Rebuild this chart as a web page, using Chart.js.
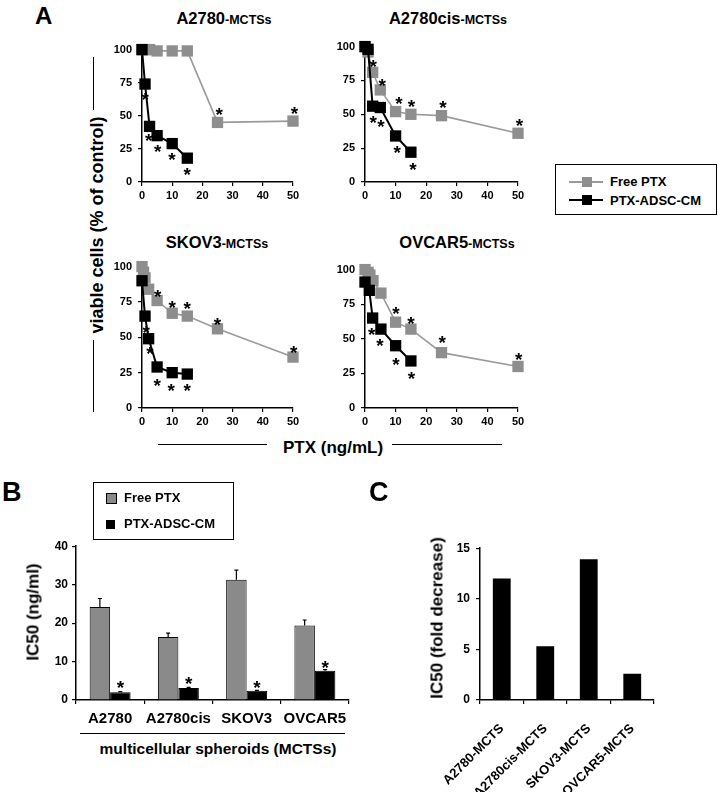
<!DOCTYPE html>
<html><head><meta charset="utf-8">
<script src="https://cdn.jsdelivr.net/npm/chart.js@4.4.1/dist/chart.umd.min.js"></script>
<style>
html,body{margin:0;padding:0;background:#fff}
#page{position:relative;width:718px;height:792px;overflow:hidden;font-family:"Liberation Sans",Arial,Helvetica,sans-serif;font-weight:bold;color:#000}
#page canvas{position:absolute}
.t{position:absolute;white-space:nowrap;line-height:1}
.hl{position:absolute;background:#000}
.box{position:absolute;border:1.5px solid #000;box-sizing:border-box}
</style></head><body><div id="page"></div>
<script>
// ---------------- data ----------------
const doseTicks = [0, 10, 20, 30, 40, 50];
const viabTicks = [0, 25, 50, 75, 100];

const a2780FreeDose = [0, 1, 2.5, 5, 10, 15, 25, 50];
const a2780FreeVal  = [100, 100, 100, 99, 99, 99, 45, 46];
const a2780CmDose   = [0, 1, 2.5, 5, 10, 15];
const a2780CmVal    = [100, 74, 42, 35, 29, 18];
const a2780Stars    = [[25.6, 54], [50.5, 55], [1.1, 65], [2.2, 34], [5.2, 26], [9.9, 20], [15, 8.5]];

const a2780cisFreeDose = [0, 1, 2.5, 5, 10, 15, 25, 50];
const a2780cisFreeVal  = [100, 96, 81, 68, 52, 50, 49, 36];
const a2780cisCmDose   = [0, 1, 2.5, 5, 10, 15];
const a2780cisCmVal    = [100, 98, 56, 55, 34, 22];
const a2780cisStars    = [[2.7, 88], [5.6, 74], [11.1, 61], [15.2, 59], [25.5, 58], [50.5, 45], [2.7, 47], [5.2, 44], [10.5, 25], [15.7, 12]];

const skov3FreeDose = [0, 0.5, 1, 2.2, 5, 10, 15, 25, 50];
const skov3FreeVal  = [100, 96, 92, 84, 76, 67, 65, 56, 36];
const skov3CmDose   = [0, 1, 2.2, 5, 10, 15];
const skov3CmVal    = [90, 65, 49, 29, 25, 24];
const skov3Stars    = [[5.2, 82], [10, 74], [15, 73], [25, 62], [50.2, 42], [1.4, 56], [2.6, 41], [5, 19], [9.7, 15.5], [15, 15]];

const ovcar5FreeDose = [0, 1, 1.6, 2.6, 5.2, 10, 15, 25, 50];
const ovcar5FreeVal  = [100, 98, 96, 92, 83, 62, 57, 40, 30];
const ovcar5CmDose   = [0, 1.4, 2.5, 5.2, 10, 15];
const ovcar5CmVal    = [91, 85, 65, 57, 45, 34];
const ovcar5Stars    = [[10.1, 71], [15, 64], [25.2, 50], [50.2, 38], [2.2, 56], [4.9, 48], [10.1, 34], [15.2, 24]];

const cellLines   = ['A2780', 'A2780cis', 'SKOV3', 'OVCAR5'];
const ic50Free    = [24.2, 16.4, 31.3, 19.4];
const ic50FreeErr = [2.2, 1.0, 2.5, 1.4];
const ic50Cm      = [2.0, 3.1, 2.4, 7.6];
const ic50CmErr   = [0.2, 0.2, 0.1, 0.3];
const ic50CmStar  = [4.4, 5.3, 4.4, 9.6];
const ic50Ticks   = [0, 10, 20, 30, 40];

const foldLabels   = ['A2780-MCTS', 'A2780cis-MCTS', 'SKOV3-MCTS', 'OVCAR5-MCTS'];
const foldDecrease = [12.0, 5.3, 13.9, 2.6];
const foldTicks    = [0, 5, 10, 15];

// ---------------- helpers ----------------
const FONT = '"Liberation Sans", Arial, Helvetica, sans-serif';
const GRAY_PT = '#8e8e8e', GRAY_LN = '#9a9a9a', GRAY_BAR = '#8a8a8a';
const page = document.getElementById('page');
Chart.defaults.font.family = FONT;
Chart.defaults.font.weight = 'bold';
Chart.defaults.color = '#000';
Chart.defaults.animation = false;

function makeCanvas(left, top, w, h) {
  const c = document.createElement('canvas');
  c.width = w; c.height = h;
  c.style.left = left + 'px'; c.style.top = top + 'px';
  c.style.width = w + 'px'; c.style.height = h + 'px';
  page.appendChild(c);
  return c;
}
function txt(html, x, base, size, center) {
  const d = document.createElement('div');
  d.className = 't'; d.innerHTML = html;
  d.style.fontSize = size + 'px';
  d.style.top = (base - 0.8465 * size) + 'px';
  d.style.left = x + 'px';
  if (center) d.style.transform = 'translateX(-50%)';
  page.appendChild(d);
  return d;
}
function vtxt(text, cx, cy, size) {
  const d = document.createElement('div');
  d.className = 't'; d.textContent = text;
  d.style.fontSize = size + 'px';
  d.style.left = cx + 'px'; d.style.top = cy + 'px';
  d.style.transform = 'translate(-50%,-50%) rotate(-90deg)';
  page.appendChild(d);
}
function rect(cls, l, t, w, h, bg) {
  const d = document.createElement('div');
  d.className = cls;
  d.style.left = l + 'px'; d.style.top = t + 'px';
  d.style.width = w + 'px'; d.style.height = h + 'px';
  if (bg) d.style.background = bg;
  page.appendChild(d);
  return d;
}

const starPlugin = {
  id: 'stars',
  afterDatasetsDraw(chart, args, opts) {
    const pts = opts.points || [];
    const ctx = chart.ctx, xs = chart.scales.x, ys = chart.scales.y;
    const size = opts.size || 18;
    ctx.save();
    ctx.font = `bold ${size}px ${FONT}`;
    ctx.fillStyle = '#000'; ctx.textAlign = 'center'; ctx.textBaseline = 'alphabetic';
    pts.forEach(p => {
      let px;
      if (opts.dataset != null) px = chart.getDatasetMeta(opts.dataset).data[p[0]].x;
      else px = xs.getPixelForValue(p[0]);
      ctx.fillText('*', px, ys.getPixelForValue(p[1]) + 0.55 * size);
    });
    ctx.restore();
  }
};
const errPlugin = {
  id: 'errbars',
  afterDatasetsDraw(chart, args, opts) {
    const ctx = chart.ctx, ys = chart.scales.y;
    ctx.save(); ctx.strokeStyle = '#000'; ctx.lineWidth = 1.2;
    (opts.sets || []).forEach(s => {
      const meta = chart.getDatasetMeta(s.ds);
      const vals = chart.data.datasets[s.ds].data;
      meta.data.forEach((bar, i) => {
        const y0 = ys.getPixelForValue(vals[i]), y1 = ys.getPixelForValue(vals[i] + s.err[i]);
        ctx.beginPath();
        ctx.moveTo(bar.x, y0); ctx.lineTo(bar.x, y1);
        ctx.moveTo(bar.x - 2, y1); ctx.lineTo(bar.x + 2, y1);
        ctx.stroke();
      });
    });
    ctx.restore();
  }
};

function axisCommon(size, pad, list, fit) {
  return {
    afterFit: fit,
    afterBuildTicks: s => { s.ticks = list.map(v => ({ value: v })); },
    ticks: { font: { size: size, weight: 'bold', family: FONT }, color: '#000', padding: pad, maxRotation: 0, autoSkip: false },
    grid: { drawOnChartArea: false, drawTicks: true, tickLength: 4, color: '#000', lineWidth: 1.2 },
    border: { display: true, color: '#000', width: 1.5 }
  };
}

function doseChart(l, t, w, h, yW, xH, padTop, freeDose, freeVal, cmDose, cmVal, stars) {
  const cv = makeCanvas(l, t, w, h);
  const xs = Object.assign({ type: 'linear', min: 0, max: 50 }, axisCommon(11, 3, doseTicks, s => { s.height = xH; }));
  const ys = Object.assign({ type: 'linear', min: 0, max: 100 }, axisCommon(11, 6, viabTicks, s => { s.width = yW; }));
  new Chart(cv, {
    type: 'scatter',
    data: { datasets: [
      { label: 'Free PTX', data: freeDose.map((d, i) => ({ x: d, y: freeVal[i] })), showLine: true,
        borderColor: GRAY_LN, borderWidth: 1.6, backgroundColor: GRAY_PT, pointBackgroundColor: GRAY_PT,
        pointBorderColor: GRAY_PT, pointBorderWidth: 0, pointStyle: 'rect', pointRadius: 8, clip: false, order: 1 },
      { label: 'PTX-ADSC-CM', data: cmDose.map((d, i) => ({ x: d, y: cmVal[i] })), showLine: true,
        borderColor: '#000', borderWidth: 2, backgroundColor: '#000', pointBackgroundColor: '#000',
        pointBorderColor: '#000', pointBorderWidth: 0, pointStyle: 'rect', pointRadius: 8, clip: false, order: 0 }
    ] },
    options: {
      responsive: false, animation: false, devicePixelRatio: 1,
      layout: { padding: { top: padTop, right: 10, left: 0, bottom: 0 } },
      scales: { x: xs, y: ys },
      plugins: { legend: { display: false }, tooltip: { enabled: false }, stars: { points: stars, size: 19 } }
    },
    plugins: [starPlugin]
  });
}

// ---------------- panel A ----------------
doseChart(112, 37, 191, 167, 30, 22, 8, a2780FreeDose, a2780FreeVal, a2780CmDose, a2780CmVal, a2780Stars);
doseChart(335, 34, 193, 170, 30, 22, 8, a2780cisFreeDose, a2780cisFreeVal, a2780cisCmDose, a2780cisCmVal, a2780cisStars);
doseChart(112, 254, 191, 176, 30, 22, 8, skov3FreeDose, skov3FreeVal, skov3CmDose, skov3CmVal, skov3Stars);
doseChart(335, 257, 193, 173, 30, 22, 8, ovcar5FreeDose, ovcar5FreeVal, ovcar5CmDose, ovcar5CmVal, ovcar5Stars);

txt('A', 35, 24, 24);
const sm = s => `<span style="font-size:12.5px">${s}</span>`;
txt('A2780' + sm('-MCTSs'), 224, 24, 16.5, true);
txt('A2780cis' + sm('-MCTSs'), 448, 24, 16.5, true);
txt('SKOV3' + sm('-MCTSs'), 217, 248, 16.5, true);
txt('OVCAR5' + sm('-MCTSs'), 457, 248, 16.5, true);

vtxt('viable cells (% of control)', 97, 225, 18);
rect('hl', 92.5, 57, 1.5, 53);
rect('hl', 92.5, 340, 1.5, 72);
txt('PTX (ng/mL)', 333, 453, 17, true);
rect('hl', 158, 443.5, 109, 1.5);
rect('hl', 392, 443.5, 110, 1.5);

// legend A
rect('box', 555, 164, 162, 51);
rect('hl', 569, 181, 34, 2, GRAY_LN);
rect('hl', 582, 176.5, 10, 10, GRAY_PT);
txt('Free PTX', 610, 186.5, 13);
rect('hl', 569, 199, 34, 2, '#000');
rect('hl', 582, 194.5, 10, 10, '#000');
txt('PTX-ADSC-CM', 610, 205, 13);

// ---------------- panel B ----------------
(function () {
  const cv = makeCanvas(40, 535, 319, 195);
  const xs = Object.assign({ type: 'category', offset: true }, axisCommon(15, 6, [], s => { s.height = 30; }));
  delete xs.afterBuildTicks;
  xs.grid.offset = true;
  const ys = Object.assign({ type: 'linear', min: 0, max: 40 }, axisCommon(12, 4, ic50Ticks, s => { s.width = 36; }));
  new Chart(cv, {
    type: 'bar',
    data: { labels: cellLines, datasets: [
      { label: 'Free PTX', data: ic50Free, backgroundColor: GRAY_BAR, borderColor: '#000', borderWidth: 1, categoryPercentage: 0.6, barPercentage: 1 },
      { label: 'PTX-ADSC-CM', data: ic50Cm, backgroundColor: '#000', borderColor: '#000', borderWidth: 1, categoryPercentage: 0.6, barPercentage: 1 }
    ] },
    options: {
      responsive: false, animation: false, devicePixelRatio: 1,
      layout: { padding: { top: 8, right: 10, left: 0, bottom: 0 } },
      scales: { x: xs, y: ys },
      plugins: { legend: { display: false }, tooltip: { enabled: false },
        errbars: { sets: [{ ds: 0, err: ic50FreeErr }, { ds: 1, err: ic50CmErr }] },
        stars: { points: ic50CmStar.map((v, i) => [i, v]), size: 19, dataset: 1 } }
    },
    plugins: [errPlugin, starPlugin]
  });
})();
txt('B', 2, 502, 27);
vtxt('IC50 (ng/ml)', 33, 612, 17);
rect('box', 93, 482, 141, 58);
rect('hl', 106, 493, 9, 9, GRAY_BAR).style.border = '1px solid #000';
txt('Free PTX', 124, 502, 13);
rect('hl', 106, 519.5, 9, 9, '#000');
txt('PTX-ADSC-CM', 124, 528.5, 13);
rect('hl', 80, 732.5, 265, 1.5);
txt('multicellular spheroids (MCTSs)', 218, 754.5, 15.5, true);

// ---------------- panel C ----------------
(function () {
  const cv = makeCanvas(380, 535, 284, 257);
  const xs = Object.assign({ type: 'category', offset: true }, axisCommon(13, 17, [], s => { s.height = 92; }));
  delete xs.afterBuildTicks;
  xs.grid.offset = true;
  xs.ticks.maxRotation = 45; xs.ticks.minRotation = 45;
  xs.ticks.labelOffset = 0;
  const ys = Object.assign({ type: 'linear', min: 0, max: 15 }, axisCommon(12, 6, foldTicks, s => { s.width = 100; }));
  new Chart(cv, {
    type: 'bar',
    data: { labels: foldLabels, datasets: [
      { label: 'IC50 fold decrease', data: foldDecrease, backgroundColor: '#000', borderWidth: 0, categoryPercentage: 1, barPercentage: 0.41 }
    ] },
    options: {
      responsive: false, animation: false, devicePixelRatio: 1,
      layout: { padding: { top: 8, right: 10, left: 0, bottom: 0 } },
      scales: { x: xs, y: ys },
      plugins: { legend: { display: false }, tooltip: { enabled: false } }
    }
  });
})();
txt('C', 369, 502, 27);
vtxt('IC50 (fold decrease)', 437, 618, 17);
</script></body></html>
